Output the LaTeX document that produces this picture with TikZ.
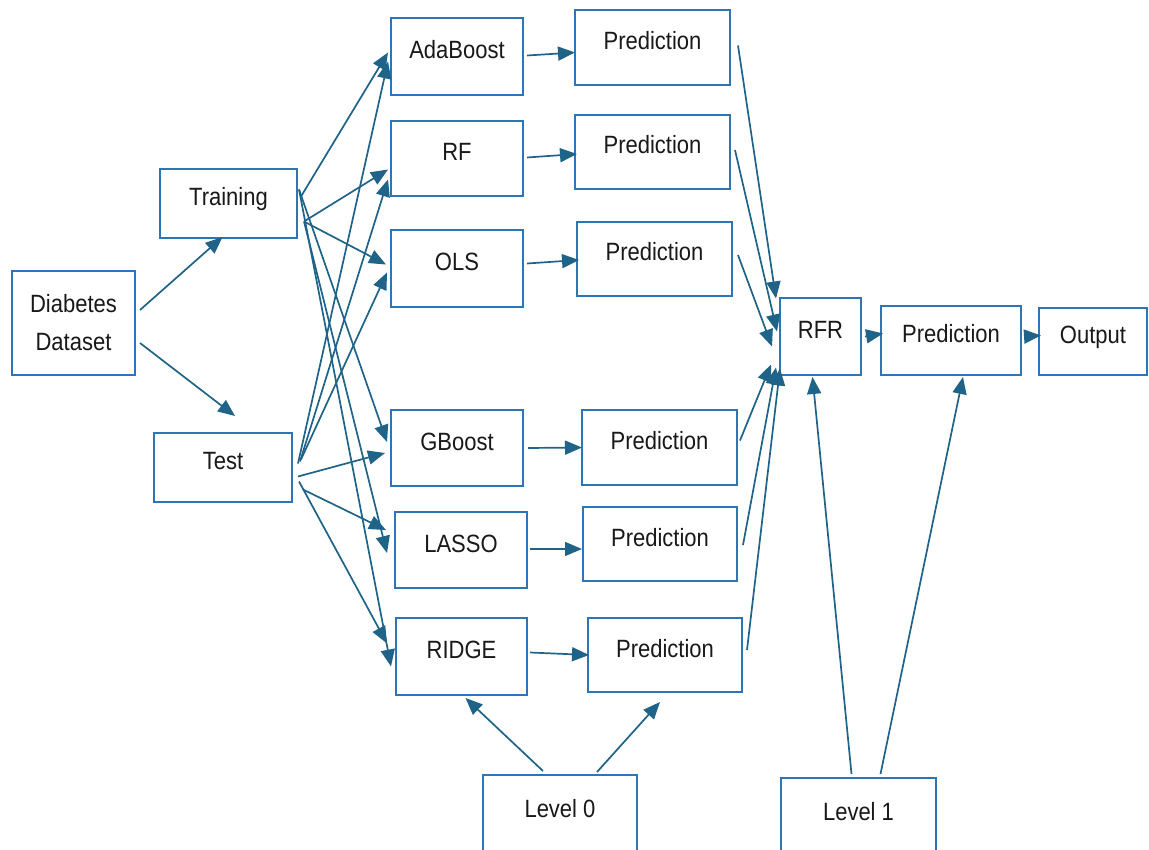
\documentclass[tikz,border=0pt]{standalone}
\usepackage{fontspec}
\setmainfont{Liberation Sans}[FakeStretch=0.88]
\usetikzlibrary{arrows.meta}

\definecolor{boxblue}{RGB}{46,117,182}
\definecolor{linkblue}{RGB}{31,99,137}
\definecolor{labelgray}{RGB}{25,25,25}

\begin{document}
\begin{tikzpicture}[
        % Define styles
        x=1pt, y=-1pt,
        block/.style={draw=boxblue, line width=2pt, fill=white, text=labelgray,
            font=\fontsize{25}{30}\selectfont, align=center},
        oneline/.style={block, text height=12pt, text depth=8pt},
        link/.style={linkblue, line width=1.7pt, -{Triangle[length=17pt, width=14pt]}}
    ]

        \clip (0,0) rectangle (1149,850);

        % --- Coordinates ---

        % Input side
        \coordinate (dataset_c) at (73.5, 323);
        \coordinate (training_c) at (228.5, 203.5);
        \coordinate (test_c) at (223, 467.5);

        % Level 0 models
        \coordinate (ada_c) at (457, 56.5);
        \coordinate (rf_c) at (457, 158.5);
        \coordinate (ols_c) at (457, 268.5);
        \coordinate (gboost_c) at (457, 448);
        \coordinate (lasso_c) at (461, 550);
        \coordinate (ridge_c) at (461.5, 656.5);

        % Level 0 predictions
        \coordinate (pred_ada_c) at (652.5, 47.5);
        \coordinate (pred_rf_c) at (652.5, 152);
        \coordinate (pred_ols_c) at (654.5, 259);
        \coordinate (pred_gboost_c) at (659.5, 447.5);
        \coordinate (pred_lasso_c) at (660, 544);
        \coordinate (pred_ridge_c) at (665, 655);

        % Level 1 and output
        \coordinate (rfr_c) at (820.5, 336.5);
        \coordinate (pred_rfr_c) at (951, 340.5);
        \coordinate (output_c) at (1093, 341.5);
        \coordinate (level0_c) at (560, 815);
        \coordinate (level1_c) at (858.5, 818);

        % --- Draw Nodes ---
        \node[block, minimum width=123pt, minimum height=104pt] (dataset) at (dataset_c) {Diabetes\\[8pt]Dataset};
        \node[oneline, minimum width=137pt, minimum height=69pt] (training) at (training_c) {Training};
        \node[oneline, minimum width=138pt, minimum height=69pt] (test) at (test_c) {Test};

        \node[oneline, minimum width=132pt, minimum height=77pt] (ada) at (ada_c) {AdaBoost};
        \node[oneline, minimum width=132pt, minimum height=75pt] (rf) at (rf_c) {RF};
        \node[oneline, minimum width=132pt, minimum height=77pt] (ols) at (ols_c) {OLS};
        \node[oneline, minimum width=132pt, minimum height=76pt] (gboost) at (gboost_c) {GBoost};
        \node[oneline, minimum width=132pt, minimum height=76pt] (lasso) at (lasso_c) {LASSO};
        \node[oneline, minimum width=131pt, minimum height=77pt] (ridge) at (ridge_c) {RIDGE};

        \node[oneline, minimum width=155pt, minimum height=75pt] (pred_ada) at (pred_ada_c) {Prediction};
        \node[oneline, minimum width=155pt, minimum height=74pt] (pred_rf) at (pred_rf_c) {Prediction};
        \node[oneline, minimum width=155pt, minimum height=74pt] (pred_ols) at (pred_ols_c) {Prediction};
        \node[oneline, minimum width=155pt, minimum height=75pt] (pred_gboost) at (pred_gboost_c) {Prediction};
        \node[oneline, minimum width=154pt, minimum height=74pt] (pred_lasso) at (pred_lasso_c) {Prediction};
        \node[oneline, minimum width=154pt, minimum height=74pt] (pred_ridge) at (pred_ridge_c) {Prediction};

        \node[oneline, minimum width=81pt, minimum height=77pt] (rfr) at (rfr_c) {RFR};
        \node[oneline, minimum width=140pt, minimum height=69pt] (pred_rfr) at (pred_rfr_c) {Prediction};
        \node[oneline, minimum width=108pt, minimum height=67pt] (output) at (output_c) {Output};

        \node[oneline, minimum width=154pt, minimum height=80pt] (level0) at (level0_c) {Level 0};
        \node[oneline, minimum width=155pt, minimum height=80pt] (level1) at (level1_c) {Level 1};

        % --- Draw Edges ---
        % Dataset split
        \draw[link] ([shift={(4,-13)}]dataset.east) -- ([shift={(-6,-2)}]training.south);
        \draw[link] ([shift={(4,20)}]dataset.east) -- ([shift={(12,-16)}]test.north);

        % Training set to the models
        \draw[link] ([shift={(3,-7)}]training.east) -- ([shift={(-2,-4)}]ada.west);
        \draw[link] ([shift={(6,18)}]training.east) -- ([shift={(-2,11)}]rf.west);
        \draw[link] ([shift={(6,18)}]training.east) -- ([shift={(-4,-4)}]ols.west);
        \draw[link] ([shift={(1,-14)}]training.east) -- ([shift={(-3,-6)}]gboost.west);
        \draw[link] ([shift={(6,18)}]training.east) -- ([shift={(-7,3)}]lasso.west);
        \draw[link] ([shift={(1,-14)}]training.east) -- ([shift={(-4,10)}]ridge.west);

        % Test set to the models
        \draw[link] ([shift={(5,-4)}]test.east) -- ([shift={(-2,5)}]ada.west);
        \draw[link] ([shift={(7,-6)}]test.east) -- ([shift={(-2,21)}]rf.west);
        \draw[link] ([shift={(8,-8)}]test.east) -- ([shift={(-3,4)}]ols.west);
        \draw[link] ([shift={(5,9)}]test.east) -- ([shift={(-5,5)}]gboost.west);
        \draw[link] ([shift={(10,22)}]test.east) -- ([shift={(-8,-20)}]lasso.west);
        \draw[link] ([shift={(6,14)}]test.east) -- ([shift={(-8,-13)}]ridge.west);

        % Models to their predictions
        \draw[link] ([shift={(3,-1)}]ada.east) -- ([shift={(1,5)}]pred_ada.west);
        \draw[link] ([shift={(3,-1)}]rf.east) -- ([shift={(3,2)}]pred_rf.west);
        \draw[link] ([shift={(3,-5)}]ols.east) -- ([shift={(3,1)}]pred_ols.west);
        \draw[link] ([shift={(4,0)}]gboost.east) -- ([shift={(1,0)}]pred_gboost.west);
        \draw[link] ([shift={(2,-1)}]lasso.east) -- ([shift={(0,5)}]pred_lasso.west);
        \draw[link] ([shift={(2,-4)}]ridge.east) -- ([shift={(2,0)}]pred_ridge.west);

        % Predictions to the meta model
        \draw[link] ([shift={(7,-2)}]pred_ada.east) -- ([shift={(-3,-38)}]rfr.west);
        \draw[link] ([shift={(4,-2)}]pred_rf.east) -- ([shift={(-2,-5)}]rfr.west);
        \draw[link] ([shift={(5,-4)}]pred_ols.east) -- ([shift={(-7,10)}]rfr.west);
        \draw[link] ([shift={(2,-7)}]pred_gboost.east) -- ([shift={(-8,28)}]rfr.west);
        \draw[link] ([shift={(5,1)}]pred_lasso.east) -- ([shift={(-3,31)}]rfr.west);
        \draw[link] ([shift={(4,-5)}]pred_ridge.east) -- ([shift={(1,32)}]rfr.west);

        % Meta model to output
        \draw[link] ([shift={(3,0)}]rfr.east) -- ([shift={(3,-7)}]pred_rfr.west);
        \draw[link] ([shift={(3,-4)}]pred_rfr.east) -- ([shift={(3,-6)}]output.west);

        % Level labels
        \draw[link] ([shift={(-17,-3)}]level0.north) -- ([shift={(4,2)}]ridge.south);
        \draw[link] ([shift={(37,-2)}]level0.north) -- ([shift={(-5,9)}]pred_ridge.south);
        \draw[link] ([shift={(-7,-3)}]level1.north) -- ([shift={(-8,1)}]rfr.south);
        \draw[link] ([shift={(22,-3)}]level1.north) -- ([shift={(12,1)}]pred_rfr.south);

    \end{tikzpicture}
\end{document}
